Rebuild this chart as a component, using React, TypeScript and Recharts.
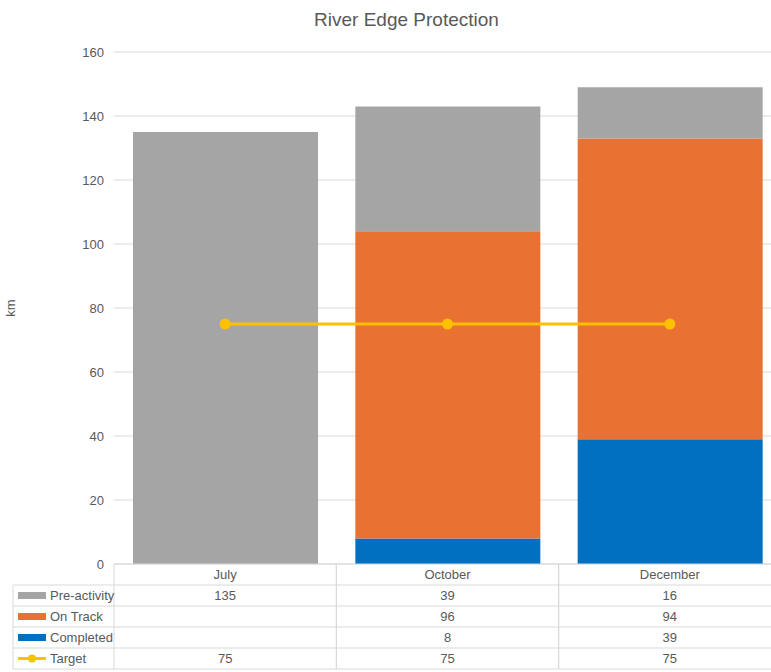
import { ComposedChart, Bar, Line, XAxis, YAxis, CartesianGrid } from 'recharts'

const MONTHS = ['July', 'October', 'December']
const PRE_ACTIVITY = [135, 39, 16]
const ON_TRACK = [null, 96, 94]
const COMPLETED = [null, 8, 39]
const TARGET = [75, 75, 75]
const Y_TICKS = [0, 20, 40, 60, 80, 100, 120, 140, 160]

const GREY = '#a5a5a5'
const ORANGE = '#e97132'
const BLUE = '#0070c0'
const GOLD = '#ffc000'
const LINE = '#d9d9d9'
const TEXT = '#595959'
const FONT = '"Liberation Sans", Arial, sans-serif'

const W = 781
const H = 672
const PLOT_LEFT = 114
const AXIS_H = 108
const PLOT_BOTTOM = H - AXIS_H
const COL_W = (W - PLOT_LEFT) / MONTHS.length
const ROW_H = 21
const TABLE_LEFT = 13

const rows = [
  { name: 'Pre-activity', values: PRE_ACTIVITY, color: GREY, kind: 'bar' },
  { name: 'On Track', values: ON_TRACK, color: ORANGE, kind: 'bar' },
  { name: 'Completed', values: COMPLETED, color: BLUE, kind: 'bar' },
  { name: 'Target', values: TARGET, color: GOLD, kind: 'line' },
]

const data = MONTHS.map((m, i) => ({
  month: m,
  pre: PRE_ACTIVITY[i],
  onTrack: ON_TRACK[i],
  completed: COMPLETED[i],
  target: TARGET[i],
}))

// data table under the plot, one column per category tick
function TableColumn(props: any) {
  const { x, index } = props
  const left = x - COL_W / 2
  const top = PLOT_BOTTOM
  const bottom = top + ROW_H * (rows.length + 1)
  return (
    <g fontFamily={FONT} fontSize={13} fill={TEXT}>
      <line x1={left} x2={left} y1={top} y2={bottom} stroke={LINE} />
      <line x1={left + COL_W} x2={left + COL_W} y1={top} y2={bottom} stroke={LINE} />
      <text x={x} y={top + ROW_H / 2 + 1} textAnchor="middle" dominantBaseline="middle">{MONTHS[index]}</text>
      {rows.map((r, ri) => {
        const y0 = top + ROW_H * (ri + 1)
        const v = r.values[index]
        return (
          <g key={r.name}>
            <line x1={left} x2={left + COL_W} y1={y0} y2={y0} stroke={LINE} />
            {v != null && (
              <text x={x} y={y0 + ROW_H / 2 + 1} textAnchor="middle" dominantBaseline="middle">{v}</text>
            )}
          </g>
        )
      })}
      <line x1={left} x2={left + COL_W} y1={bottom} y2={bottom} stroke={LINE} />
      {index === 0 && (
        <g>
          <line x1={TABLE_LEFT} x2={TABLE_LEFT} y1={top + ROW_H} y2={bottom} stroke={LINE} />
          {rows.map((r, ri) => {
            const y0 = top + ROW_H * (ri + 1)
            const cy = y0 + ROW_H / 2
            return (
              <g key={r.name}>
                <line x1={TABLE_LEFT} x2={left} y1={y0} y2={y0} stroke={LINE} />
                {r.kind === 'bar' ? (
                  <rect x={18} y={cy - 3.5} width={28} height={7} fill={r.color} />
                ) : (
                  <g>
                    <line x1={18} x2={46} y1={cy} y2={cy} stroke={r.color} strokeWidth={3} />
                    <circle cx={32} cy={cy} r={4} fill={r.color} />
                  </g>
                )}
                <text x={50} y={cy + 1} dominantBaseline="middle">{r.name}</text>
              </g>
            )
          })}
          <line x1={TABLE_LEFT} x2={left} y1={bottom} y2={bottom} stroke={LINE} />
        </g>
      )}
    </g>
  )
}

export default function App() {
  return (
    <div style={{ position: 'absolute', left: 0, top: 0, width: 771, height: 672, overflow: 'hidden', background: '#fff' }}>
      <div style={{ position: 'absolute', left: 0, top: 9, width: W, textAlign: 'center', paddingLeft: 32, boxSizing: 'border-box', fontFamily: FONT, fontSize: 19, color: TEXT }}>
        River Edge Protection
      </div>
      <ComposedChart width={W} height={H} data={data} margin={{ top: 52, right: 0, left: 0, bottom: 0 }} barSize={185}>
        <CartesianGrid vertical={false} stroke={LINE} />
        <XAxis
          dataKey="month"
          height={AXIS_H}
          axisLine={{ stroke: LINE }}
          tickLine={false}
          interval={0}
          tick={(p: any) => <TableColumn {...p} />}
        />
        <YAxis
          width={PLOT_LEFT}
          domain={[0, 160]}
          ticks={Y_TICKS}
          axisLine={false}
          tickLine={false}
          tickMargin={4}
          tick={{ fill: TEXT, fontSize: 13, fontFamily: FONT }}
          label={{ value: 'km', angle: -90, position: 'insideLeft', offset: 10, style: { textAnchor: 'middle', fill: TEXT, fontSize: 13, fontFamily: FONT } }}
        />
        <Bar dataKey="completed" stackId="s" fill={BLUE} isAnimationActive={false} />
        <Bar dataKey="onTrack" stackId="s" fill={ORANGE} isAnimationActive={false} />
        <Bar dataKey="pre" stackId="s" fill={GREY} isAnimationActive={false} />
        <Line dataKey="target" stroke={GOLD} strokeWidth={3} dot={{ r: 4, fill: GOLD, stroke: GOLD }} isAnimationActive={false} />
      </ComposedChart>
    </div>
  )
}
